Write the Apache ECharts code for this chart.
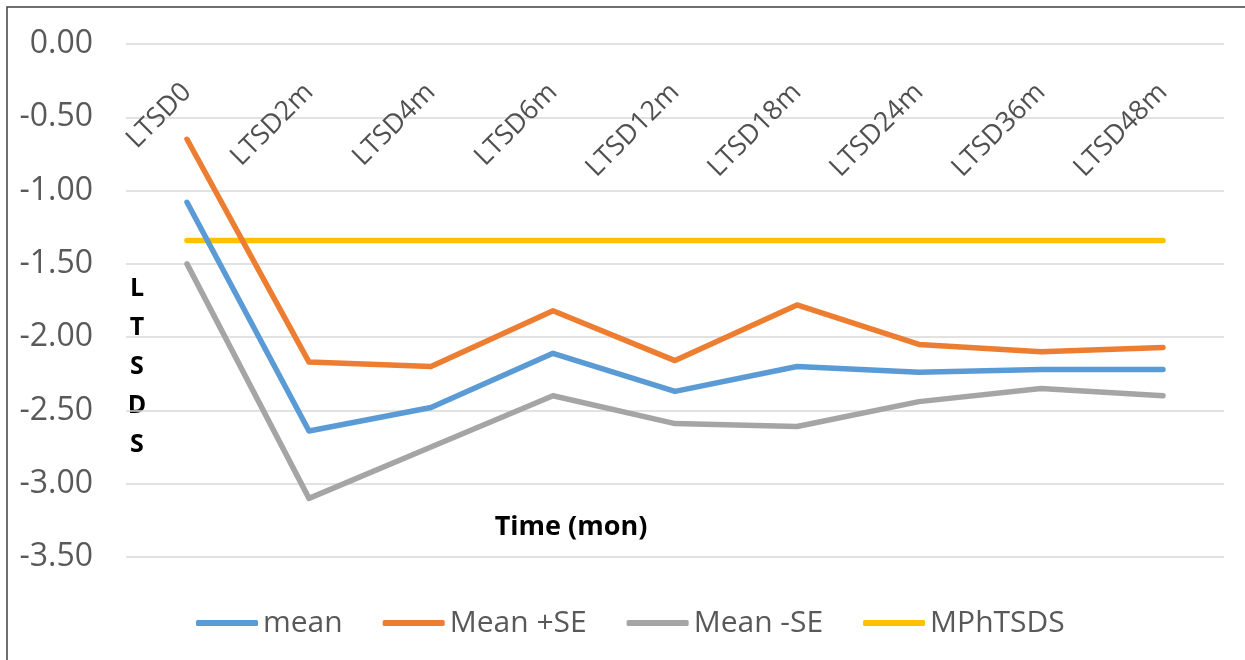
<!DOCTYPE html>
<html>
<head>
<meta charset="utf-8">
<script src="https://cdn.jsdelivr.net/npm/echarts@6/dist/echarts.min.js"></script>
<style>
html,body{margin:0;padding:0;background:#fff;}
#chart{width:1245px;height:660px;}
</style>
</head>
<body>
<div id="chart"></div>
<script>
const categories = ['LTSD0','LTSD2m','LTSD4m','LTSD6m','LTSD12m','LTSD18m','LTSD24m','LTSD36m','LTSD48m'];
const meanValues = [-1.08,-2.64,-2.48,-2.11,-2.37,-2.20,-2.24,-2.22,-2.22];
const meanPlusSE = [-0.65,-2.17,-2.20,-1.82,-2.16,-1.78,-2.05,-2.10,-2.07];
const meanMinusSE = [-1.50,-3.10,-2.75,-2.40,-2.59,-2.61,-2.44,-2.35,-2.40];
const mphtsds = [-1.34,-1.34,-1.34,-1.34,-1.34,-1.34,-1.34,-1.34,-1.34];
const seriesNames = ['mean','Mean +SE','Mean -SE','MPhTSDS'];
const yTicks = {min:-3.5, max:0, interval:0.5};

const FONT = '"Open Sans"';
const colors = ['#5B9BD5','#ED7D31','#A5A5A5','#FFC000'];
const dataSets = [meanValues, meanPlusSE, meanMinusSE, mphtsds];

const chart = echarts.init(document.getElementById('chart'));
chart.setOption({
  animation:false,
  color: colors,
  grid:{left:126,right:21,top:44,bottom:103},
  legend:{
    data: seriesNames.map(n=>({name:n, icon:'roundRect'})),
    left:196, top:608, padding:0,
    itemWidth:62, itemHeight:6, itemGap:40,
    textStyle:{fontFamily:FONT, fontSize:30, color:'#595959'}
  },
  xAxis:{
    type:'category', data:categories, position:'top', boundaryGap:true,
    axisLine:{show:false}, axisTick:{show:false},
    axisLabel:{inside:true, rotate:45, margin:44, fontFamily:FONT, fontSize:27, color:'#505050', interval:0}
  },
  yAxis:{
    type:'value', min:yTicks.min, max:yTicks.max, interval:yTicks.interval,
    axisLine:{show:false}, axisTick:{show:false},
    axisLabel:{margin:33, fontFamily:FONT, fontSize:32, color:'#595959', formatter:v=>v.toFixed(2)},
    splitLine:{lineStyle:{color:'#D9D9D9', width:1.5}}
  },
  graphic:[
    {type:'rect', shape:{x:7,y:7,width:1300,height:700}, style:{fill:'none', stroke:'#404040', lineWidth:1.5}, silent:true},
    {type:'text', x:571, y:527, style:{text:'Time (mon)', fontFamily:FONT, fontWeight:'bold', fontSize:27, fill:'#000', align:'center', verticalAlign:'middle'}},
    {type:'text', x:137, y:367, style:{text:'L\nT\nS\nD\nS', fontFamily:FONT, fontWeight:'bold', fontSize:25, lineHeight:39, fill:'#000', align:'center', verticalAlign:'middle'}}
  ],
  series: seriesNames.map((n,i)=>({
    name:n, type:'line', data:dataSets[i], symbol:'none', smooth:false,
    lineStyle:{width:5.5, color:colors[i], cap:'round', join:'round'},
    z: i===3 ? 1 : 2
  }))
});
</script>
</body>
</html>
